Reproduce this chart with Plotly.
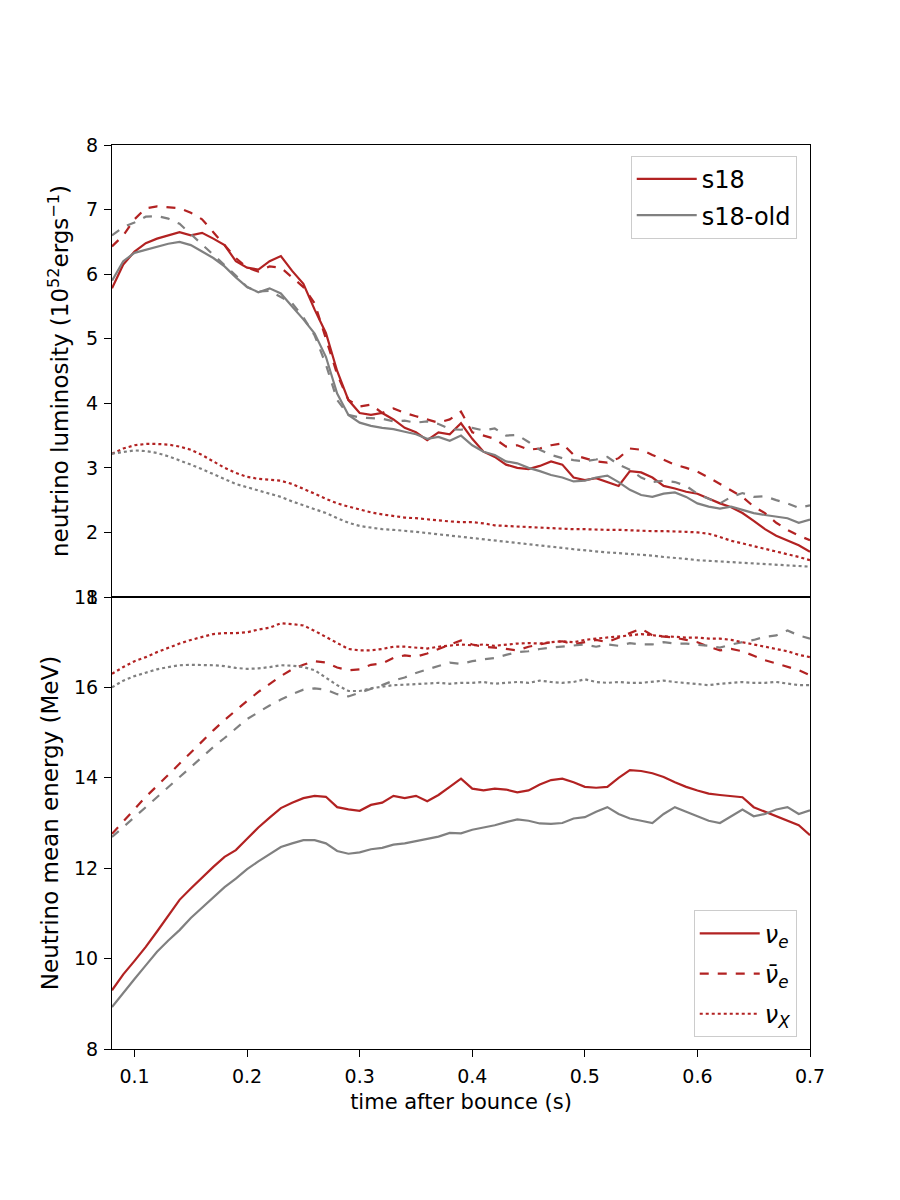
import plotly.graph_objects as go
from plotly.subplots import make_subplots

t = [0.08, 0.09, 0.10, 0.11, 0.12, 0.13, 0.14, 0.15, 0.16, 0.17, 0.18, 0.19, 0.20,
     0.21, 0.22, 0.23, 0.24, 0.25, 0.26, 0.27, 0.28, 0.29, 0.30, 0.31, 0.32, 0.33,
     0.34, 0.35, 0.36, 0.37, 0.38, 0.39, 0.40, 0.41, 0.42, 0.43, 0.44, 0.45, 0.46,
     0.47, 0.48, 0.49, 0.50, 0.51, 0.52, 0.53, 0.54, 0.55, 0.56, 0.57, 0.58, 0.59,
     0.60, 0.61, 0.62, 0.63, 0.64, 0.65, 0.66, 0.67, 0.68, 0.69, 0.70]

# ---- luminosity (10^52 erg/s) ----
lum_e_s18 = [5.78, 6.15, 6.35, 6.48, 6.55, 6.60, 6.65, 6.60, 6.64, 6.55, 6.45, 6.20, 6.10,
             6.07, 6.20, 6.28, 6.05, 5.85, 5.45, 5.09, 4.50, 4.05, 3.85, 3.82, 3.85, 3.75,
             3.62, 3.55, 3.43, 3.55, 3.52, 3.69, 3.45, 3.25, 3.17, 3.05, 3.00, 2.98, 3.03,
             3.10, 3.05, 2.85, 2.81, 2.84, 2.78, 2.72, 2.95, 2.93, 2.85, 2.72, 2.68, 2.63,
             2.60, 2.52, 2.45, 2.39, 2.30, 2.18, 2.05, 1.95, 1.87, 1.80, 1.70]
lum_e_old = [5.90, 6.20, 6.33, 6.38, 6.43, 6.47, 6.50, 6.45, 6.35, 6.25, 6.12, 5.95, 5.80,
             5.72, 5.78, 5.70, 5.50, 5.30, 5.08, 4.72, 4.15, 3.82, 3.70, 3.65, 3.62, 3.60,
             3.56, 3.52, 3.45, 3.48, 3.42, 3.50, 3.35, 3.25, 3.20, 3.10, 3.07, 3.00, 2.95,
             2.89, 2.85, 2.79, 2.80, 2.85, 2.88, 2.78, 2.66, 2.58, 2.55, 2.60, 2.62, 2.55,
             2.45, 2.40, 2.37, 2.40, 2.35, 2.30, 2.27, 2.25, 2.22, 2.15, 2.20]
lum_ae_s18 = [6.43, 6.60, 6.85, 7.02, 7.05, 7.03, 7.02, 6.95, 6.85, 6.65, 6.45, 6.25, 6.10,
              6.04, 6.12, 6.10, 5.95, 5.80, 5.55, 5.00, 4.45, 4.05, 3.95, 3.98, 3.85, 3.92,
              3.85, 3.80, 3.75, 3.70, 3.75, 3.87, 3.55, 3.50, 3.45, 3.33, 3.35, 3.28, 3.30,
              3.35, 3.38, 3.20, 3.15, 3.10, 3.08, 3.15, 3.30, 3.28, 3.20, 3.12, 3.05, 3.00,
              2.94, 2.85, 2.75, 2.66, 2.55, 2.40, 2.30, 2.15, 2.04, 1.95, 1.88]
lum_ae_old = [6.60, 6.73, 6.80, 6.89, 6.90, 6.86, 6.78, 6.62, 6.47, 6.30, 6.15, 5.98, 5.80,
              5.73, 5.74, 5.65, 5.55, 5.33, 5.05, 4.60, 4.05, 3.82, 3.78, 3.77, 3.76, 3.72,
              3.73, 3.70, 3.72, 3.68, 3.60, 3.59, 3.62, 3.58, 3.61, 3.50, 3.51, 3.40, 3.28,
              3.20, 3.15, 3.12, 3.10, 3.13, 3.17, 3.05, 2.97, 2.85, 2.78, 2.80, 2.78, 2.72,
              2.60, 2.52, 2.45, 2.55, 2.61, 2.55, 2.56, 2.50, 2.45, 2.38, 2.42]
lum_x_s18 = [3.22, 3.30, 3.35, 3.37, 3.37, 3.36, 3.33, 3.28, 3.20, 3.10, 3.00, 2.92, 2.86,
             2.83, 2.82, 2.80, 2.75, 2.68, 2.60, 2.52, 2.45, 2.40, 2.35, 2.31, 2.28, 2.25,
             2.23, 2.22, 2.20, 2.18, 2.17, 2.16, 2.16, 2.14, 2.11, 2.10, 2.09, 2.08, 2.07,
             2.06, 2.06, 2.05, 2.05, 2.04, 2.04, 2.04, 2.03, 2.03, 2.02, 2.02, 2.02, 2.01,
             2.00, 1.98, 1.93, 1.87, 1.83, 1.79, 1.75, 1.71, 1.67, 1.62, 1.57]
lum_x_old = [3.22, 3.25, 3.27, 3.26, 3.23, 3.18, 3.12, 3.05, 2.98, 2.90, 2.82, 2.75, 2.70,
             2.65, 2.60, 2.55, 2.48, 2.42, 2.36, 2.30, 2.22, 2.15, 2.10, 2.07, 2.05, 2.04,
             2.03, 2.01, 1.99, 1.97, 1.95, 1.93, 1.91, 1.90, 1.88, 1.86, 1.84, 1.82, 1.80,
             1.78, 1.76, 1.74, 1.72, 1.71, 1.69, 1.68, 1.67, 1.65, 1.64, 1.62, 1.61, 1.59,
             1.57, 1.56, 1.55, 1.54, 1.53, 1.52, 1.51, 1.50, 1.49, 1.48, 1.47]

# ---- mean energy (MeV) ----
en_e_s18 = [9.30, 9.65, 9.95, 10.26, 10.60, 10.95, 11.30, 11.55, 11.80, 12.03, 12.25, 12.40, 12.65,
            12.90, 13.12, 13.33, 13.45, 13.55, 13.60, 13.58, 13.35, 13.30, 13.27, 13.40, 13.45, 13.60,
            13.55, 13.60, 13.48, 13.62, 13.80, 13.98, 13.76, 13.72, 13.76, 13.74, 13.68, 13.72, 13.85,
            13.95, 13.98, 13.90, 13.80, 13.78, 13.80, 14.00, 14.17, 14.15, 14.10, 14.02, 13.90, 13.80,
            13.72, 13.65, 13.62, 13.60, 13.57, 13.35, 13.25, 13.15, 13.05, 12.95, 12.73]
en_e_old = [8.93, 9.25, 9.55, 9.85, 10.15, 10.40, 10.63, 10.90, 11.13, 11.36, 11.58, 11.77, 11.98,
            12.15, 12.32, 12.47, 12.55, 12.62, 12.62, 12.55, 12.38, 12.32, 12.35, 12.42, 12.45, 12.52,
            12.55, 12.60, 12.66, 12.70, 12.78, 12.77, 12.85, 12.90, 12.95, 13.02, 13.08, 13.05, 12.99,
            12.98, 13.00, 13.10, 13.13, 13.25, 13.35, 13.20, 13.10, 13.05, 13.00, 13.20, 13.35, 13.25,
            13.15, 13.05, 13.00, 13.15, 13.30, 13.15, 13.20, 13.30, 13.35, 13.20, 13.28]
en_ae_s18 = [12.76, 13.03, 13.30, 13.58, 13.82, 14.07, 14.31, 14.55, 14.80, 15.05, 15.28, 15.50, 15.70,
             15.90, 16.08, 16.25, 16.40, 16.50, 16.58, 16.55, 16.44, 16.38, 16.40, 16.50, 16.53, 16.65,
             16.71, 16.68, 16.75, 16.85, 16.95, 17.04, 16.95, 16.90, 16.88, 16.85, 16.82, 16.90, 16.95,
             17.00, 17.02, 16.95, 17.00, 17.05, 17.00, 17.10, 17.20, 17.30, 17.15, 17.12, 17.10, 17.05,
             17.00, 16.90, 16.82, 16.85, 16.80, 16.70, 16.60, 16.53, 16.45, 16.38, 16.27]
en_ae_old = [12.69, 12.90, 13.13, 13.35, 13.57, 13.80, 14.02, 14.25, 14.47, 14.68, 14.88, 15.08, 15.30,
             15.45, 15.60, 15.73, 15.85, 15.95, 15.98, 15.95, 15.85, 15.80, 15.88, 15.97, 16.05, 16.15,
             16.22, 16.32, 16.40, 16.48, 16.55, 16.52, 16.58, 16.62, 16.65, 16.72, 16.78, 16.80, 16.85,
             16.88, 16.90, 16.92, 16.95, 16.90, 16.95, 16.92, 16.98, 16.95, 16.95, 17.00, 16.97, 16.97,
             16.95, 16.92, 16.88, 16.95, 17.00, 17.05, 17.12, 17.15, 17.26, 17.15, 17.08]
en_x_s18 = [16.30, 16.45, 16.58, 16.67, 16.78, 16.88, 16.97, 17.05, 17.12, 17.18, 17.20, 17.20, 17.22,
            17.28, 17.32, 17.42, 17.40, 17.37, 17.25, 17.12, 16.98, 16.85, 16.82, 16.82, 16.85, 16.90,
            16.90, 16.88, 16.86, 16.90, 16.92, 16.95, 16.93, 16.95, 16.92, 16.95, 16.97, 16.98, 16.97,
            17.00, 17.02, 17.00, 17.05, 17.08, 17.10, 17.12, 17.15, 17.18, 17.15, 17.13, 17.12, 17.10,
            17.10, 17.08, 17.08, 17.05, 17.00, 16.95, 16.90, 16.85, 16.80, 16.72, 16.67]
en_x_old = [16.00, 16.15, 16.25, 16.32, 16.40, 16.45, 16.49, 16.50, 16.50, 16.49, 16.47, 16.43, 16.41,
            16.42, 16.45, 16.49, 16.48, 16.45, 16.38, 16.22, 16.05, 15.92, 15.92, 15.98, 16.02, 16.05,
            16.06, 16.07, 16.08, 16.10, 16.08, 16.10, 16.10, 16.12, 16.08, 16.10, 16.12, 16.10, 16.15,
            16.12, 16.10, 16.12, 16.18, 16.12, 16.10, 16.12, 16.10, 16.10, 16.12, 16.15, 16.12, 16.10,
            16.08, 16.05, 16.08, 16.10, 16.12, 16.10, 16.10, 16.12, 16.08, 16.05, 16.05]

x_ticks = [0.1, 0.2, 0.3, 0.4, 0.5, 0.6, 0.7]
lum_ticks = [1, 2, 3, 4, 5, 6, 7, 8]
en_ticks = [8, 10, 12, 14, 16, 18]

RED = "#b22222"
GRAY = "#808080"
LW = 2.2

fig = make_subplots(rows=2, cols=1, shared_xaxes=True, vertical_spacing=0)

top = [(lum_e_s18, RED, "solid"), (lum_e_old, GRAY, "solid"),
       (lum_ae_s18, RED, "dash"), (lum_ae_old, GRAY, "dash"),
       (lum_x_s18, RED, "dot"), (lum_x_old, GRAY, "dot")]
bot = [(en_e_s18, RED, "solid"), (en_e_old, GRAY, "solid"),
       (en_ae_s18, RED, "dash"), (en_ae_old, GRAY, "dash"),
       (en_x_s18, RED, "dot"), (en_x_old, GRAY, "dot")]

for y, c, d in top:
    fig.add_trace(go.Scatter(x=t, y=y, mode="lines", line=dict(color=c, width=LW, dash=d),
                             showlegend=False, hoverinfo="skip"), row=1, col=1)
for y, c, d in bot:
    fig.add_trace(go.Scatter(x=t, y=y, mode="lines", line=dict(color=c, width=LW, dash=d),
                             showlegend=False, hoverinfo="skip"), row=2, col=1)

# legend 1: models
for name, c in [("s18", RED), ("s18-old", GRAY)]:
    fig.add_trace(go.Scatter(x=[None], y=[None], mode="lines", name=name, legendgroup=name,
                             line=dict(color=c, width=LW), legend="legend"), row=1, col=1)
# legend 2: flavours
for name, d in [("<i>ν</i><sub><i>e</i></sub>", "solid"),
                ("<i>ν̄</i><sub><i>e</i></sub>", "dash"),
                ("<i>ν</i><sub><i>X</i></sub>", "dot")]:
    fig.add_trace(go.Scatter(x=[None], y=[None], mode="lines", name=name, legendgroup=d,
                             line=dict(color=RED, width=LW, dash=d), legend="legend2"), row=2, col=1)

FONT = "DejaVu Sans"
axis_common = dict(showline=True, linecolor="black", linewidth=1.2, mirror=True,
                   ticks="outside", ticklen=7, tickwidth=1.2, tickcolor="black",
                   showgrid=False, zeroline=False, tickfont=dict(family=FONT, size=19, color="black"))

fig.update_xaxes(range=[0.08, 0.7], tickvals=x_ticks, ticklabelstandoff=3, **axis_common)
fig.update_xaxes(showticklabels=False, ticks="", row=1, col=1)
fig.update_xaxes(title=dict(text="time after bounce (s)", font=dict(family=FONT, size=21, color="black"),
                            standoff=8), row=2, col=1)
fig.update_yaxes(ticklabelstandoff=2, **axis_common)
fig.update_yaxes(range=[1, 8], tickvals=lum_ticks,
                 title=dict(text="neutrino luminosity (10<sup>52</sup>ergs<sup>−1</sup>)",
                            font=dict(family=FONT, size=23, color="black"), standoff=10),
                 row=1, col=1)
fig.update_yaxes(range=[8, 18], tickvals=en_ticks,
                 title=dict(text="Neutrino mean energy (MeV)",
                            font=dict(family=FONT, size=23, color="black"), standoff=8),
                 row=2, col=1)

fig.update_layout(
    width=900, height=1200,
    margin=dict(l=112, r=90, t=145, b=151),
    plot_bgcolor="white", paper_bgcolor="white",
    font=dict(family=FONT, color="black"),
    legend=dict(x=0.981, y=0.988, xanchor="right", yanchor="top",
                bgcolor="rgba(255,255,255,0.8)", bordercolor="#cccccc", borderwidth=1,
                font=dict(family=FONT, size=24, color="black"), itemwidth=60, tracegroupgap=2),
    legend2=dict(x=0.981, y=0.013, xanchor="right", yanchor="bottom",
                 bgcolor="rgba(255,255,255,0.8)", bordercolor="#cccccc", borderwidth=1,
                 font=dict(family=FONT, size=24, color="black"), itemwidth=60, tracegroupgap=6),
)

fig.write_html("out.html")
